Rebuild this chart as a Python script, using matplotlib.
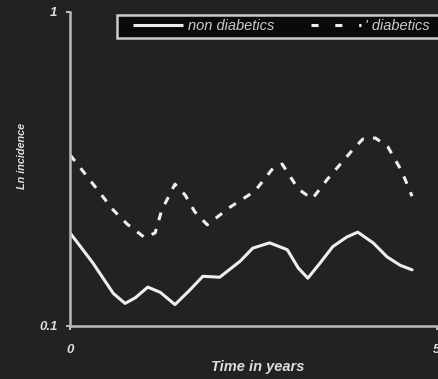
import matplotlib.pyplot as plt
from matplotlib.lines import Line2D
from matplotlib.patches import Rectangle
from matplotlib.ticker import FixedLocator, NullLocator

# non diabetics (solid)
x_non = [0.00, 0.31, 0.59, 0.75, 0.89, 1.06, 1.23, 1.43, 1.63, 1.81, 2.04, 2.32, 2.49,
         2.72, 2.96, 3.11, 3.24, 3.41, 3.58, 3.77, 3.92, 4.13, 4.32, 4.50, 4.66]
y_non = [0.198, 0.159, 0.127, 0.118, 0.123, 0.133, 0.128, 0.117, 0.130, 0.144, 0.143, 0.161, 0.177,
         0.184, 0.175, 0.153, 0.142, 0.159, 0.179, 0.192, 0.199, 0.184, 0.166, 0.156, 0.151]

# diabetics (dashed)
x_dia = [0.00, 0.25, 0.41, 0.59, 0.78, 1.02, 1.16, 1.25, 1.43, 1.57, 1.70, 1.87, 2.18,
         2.52, 2.77, 2.89, 3.11, 3.30, 3.50, 3.64, 3.86, 3.99, 4.16, 4.33, 4.52, 4.66]
y_dia = [0.351, 0.296, 0.265, 0.234, 0.211, 0.191, 0.198, 0.234, 0.283, 0.261, 0.231, 0.210, 0.239,
         0.269, 0.319, 0.328, 0.273, 0.254, 0.292, 0.319, 0.366, 0.394, 0.397, 0.372, 0.311, 0.259]

labels = ['non diabetics', "' diabetics"]

bg = '#222222'
fg = '#eeeeee'
txt = '#dddddd'

plt.rcParams['font.family'] = ['Liberation Sans', 'DejaVu Sans']

fig = plt.figure(figsize=(4.39, 3.79), dpi=100, facecolor=bg)
ax = fig.add_axes([70/439, 53/379, 367/439, 314/379])
ax.set_facecolor(bg)

ax.plot(x_non, y_non, color=fg, lw=2.2, solid_capstyle='round', solid_joinstyle='round')
ax.plot(x_dia, y_dia, color=fg, lw=2.2, dashes=(2.6, 3.0), dash_capstyle='butt',
        dash_joinstyle='round')

ax.set_yscale('log')
ax.set_ylim(0.1, 1)
ax.set_xlim(0, 5)
ax.yaxis.set_major_locator(FixedLocator([0.1, 1]))
ax.yaxis.set_minor_locator(NullLocator())
ax.set_yticklabels(['0.1', '1'])
ax.set_xticks([0, 5])
ax.set_xticklabels(['0', '5'])

for s in ['top', 'right']:
    ax.spines[s].set_visible(False)
for s in ['left', 'bottom']:
    ax.spines[s].set_color('#bbbbbb')
    ax.spines[s].set_linewidth(1.8)
ax.spines['bottom'].set_clip_on(False)

ax.tick_params(axis='both', colors='#bbbbbb', length=3, width=1.5, direction='out',
               labelcolor=txt, labelsize=9.5)
ax.tick_params(axis='y', pad=6)
ax.tick_params(axis='x', pad=10)
for lab in ax.get_xticklabels() + ax.get_yticklabels():
    lab.set_fontweight('bold')
    lab.set_fontstyle('italic')

ax.set_xlabel('Time in years', color=txt, fontsize=10.5, fontweight='bold',
              fontstyle='italic')
ax.xaxis.set_label_coords(0.512, -0.108)
ax.set_ylabel('Ln incidence', color=txt, fontsize=7.8, fontweight='bold',
              fontstyle='italic')
ax.yaxis.set_label_coords(-0.117, 0.541)

# legend box, running off the right edge as in the original
fig.patches.append(Rectangle((117/439, 1 - 38/379), 340/439, 23/379,
                             transform=fig.transFigure, facecolor='#0a0a0a',
                             edgecolor='#cccccc', linewidth=1.8, zorder=5))
handles = [Line2D([], [], color=fg, lw=2.2, solid_capstyle='butt'),
           Line2D([], [], color=fg, lw=2.2, dashes=(2.3, 5.5), dash_capstyle='butt')]
leg = fig.legend(handles, labels, loc='center left',
                 bbox_to_anchor=(133/439, 1 - 26.5/379), ncol=2, frameon=False,
                 handlelength=3.45, columnspacing=2.5, handletextpad=0.3,
                 borderpad=0, borderaxespad=0,
                 prop={'style': 'italic', 'size': 10.5})
leg.set_zorder(6)
for t in leg.get_texts():
    t.set_color('#cccccc')

fig.savefig('out.png', dpi=100, facecolor=bg)
